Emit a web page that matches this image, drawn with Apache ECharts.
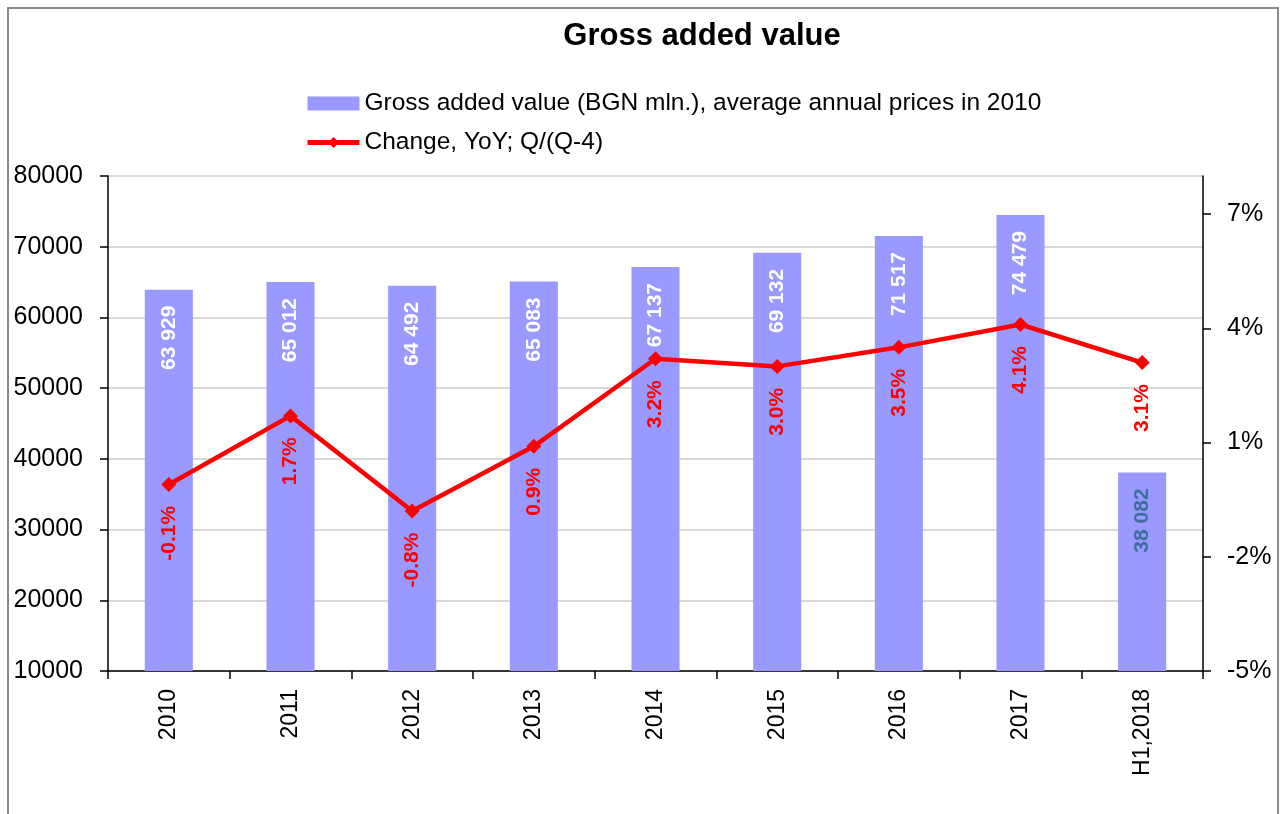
<!DOCTYPE html>
<html>
<head>
<meta charset="utf-8">
<script src="https://cdn.jsdelivr.net/npm/echarts@6/dist/echarts.min.js"></script>
<style>
html,body{margin:0;padding:0;background:#fff;}
#chart{width:1285px;height:814px;}
</style>
</head>
<body>
<div id="chart"></div>
<script>
const categories = ['2010','2011','2012','2013','2014','2015','2016','2017','H1,2018'];
const gvaValues = [63929, 65012, 64492, 65083, 67137, 69132, 71517, 74479, 38082];
const changeValues = [-0.1, 1.7, -0.8, 0.9, 3.2, 3.0, 3.5, 4.1, 3.1];
const rightTicks = [-5, -2, 1, 4, 7];
const seriesNames = ['Gross added value (BGN mln.), average annual prices in 2010', 'Change, YoY; Q/(Q-4)'];

const FONT = '"Liberation Sans", Arial, sans-serif';
const chart = echarts.init(document.getElementById('chart'), null, {renderer:'canvas'});

function fmtThousands(v){
  return String(v).replace(/\B(?=(\d{3})+(?!\d))/g, ' ');
}

const barData = gvaValues.map((v, i) => ({
  value: v,
  label: i === gvaValues.length - 1 ? {color: '#3F6E9E'} : undefined
}));

chart.setOption({
  animation: false,
  backgroundColor: '#fff',
  textStyle: {fontFamily: FONT},
  graphic: [{
    type: 'rect', silent: true, z: -10,
    shape: {x: 8, y: 8, width: 1270, height: 830},
    style: {fill: 'none', stroke: '#8a8a8a', lineWidth: 2}
  }],
  title: {
    text: 'Gross added value',
    left: 697, textAlign: 'center', top: 16,
    textStyle: {fontFamily: FONT, fontSize: 31, fontWeight: 'bold', color: '#000'}
  },
  legend: {
    orient: 'vertical', left: 305, top: 91, padding: 0,
    itemWidth: 52, itemHeight: 14, itemGap: 14,
    textStyle: {fontFamily: FONT, fontSize: 24.5, color: '#000'},
    data: [
      {name: seriesNames[0], icon: 'rect'},
      {name: seriesNames[1], lineStyle: {width: 5, color: '#FF0000'}, itemStyle: {color: '#FF0000'}}
    ]
  },
  grid: {left: 108, right: 82, top: 176, bottom: 143, containLabel: false},
  xAxis: {
    type: 'category', data: categories,
    axisLine: {onZero: false, lineStyle: {color: '#000', width: 1.5}},
    axisTick: {show: true, alignWithLabel: false, length: 8, lineStyle: {color: '#000', width: 1.5}},
    axisLabel: {rotate: 90, margin: 18, fontFamily: FONT, fontSize: 23, color: '#000', interval: 0}
  },
  yAxis: [{
    type: 'value', min: 10000, max: 80000, interval: 10000,
    axisLine: {show: true, lineStyle: {color: '#000', width: 1.5}},
    axisTick: {show: true, length: 8, lineStyle: {color: '#000', width: 1.5}},
    axisLabel: {margin: 25, fontFamily: FONT, fontSize: 25, color: '#000', formatter: v => String(v)},
    splitLine: {show: true, lineStyle: {color: '#cccccc', width: 1.5}}
  }, {
    type: 'value', min: -5, max: 8, position: 'right',
    axisLine: {show: true, lineStyle: {color: '#000', width: 1.5}},
    axisTick: {show: true, length: 8, customValues: rightTicks, lineStyle: {color: '#000', width: 1.5}},
    axisLabel: {margin: 24, fontFamily: FONT, fontSize: 25, color: '#000', customValues: rightTicks,
      formatter: v => v + '%'},
    splitLine: {show: false}
  }],
  series: [{
    name: seriesNames[0], type: 'bar', yAxisIndex: 0,
    data: barData, barWidth: '39.5%',
    itemStyle: {color: '#9999FF'},
    label: {
      show: true, position: 'insideTop', rotate: 90, distance: 16,
      align: 'right', verticalAlign: 'middle',
      fontFamily: FONT, fontSize: 21, fontWeight: 'bold', color: '#fff',
      formatter: p => fmtThousands(p.value)
    },
    z: 2
  }, {
    name: seriesNames[1], type: 'line', yAxisIndex: 1,
    data: changeValues,
    lineStyle: {color: '#FF0000', width: 4.5},
    itemStyle: {color: '#FF0000'},
    symbol: 'diamond', symbolSize: 15,
    label: {
      show: true, position: 'bottom', rotate: 90, distance: 14,
      align: 'right', verticalAlign: 'middle',
      fontFamily: FONT, fontSize: 21, fontWeight: 'bold', color: '#FF0000',
      formatter: p => p.value.toFixed(1) + '%'
    },
    z: 5
  }]
});
</script>
</body>
</html>
